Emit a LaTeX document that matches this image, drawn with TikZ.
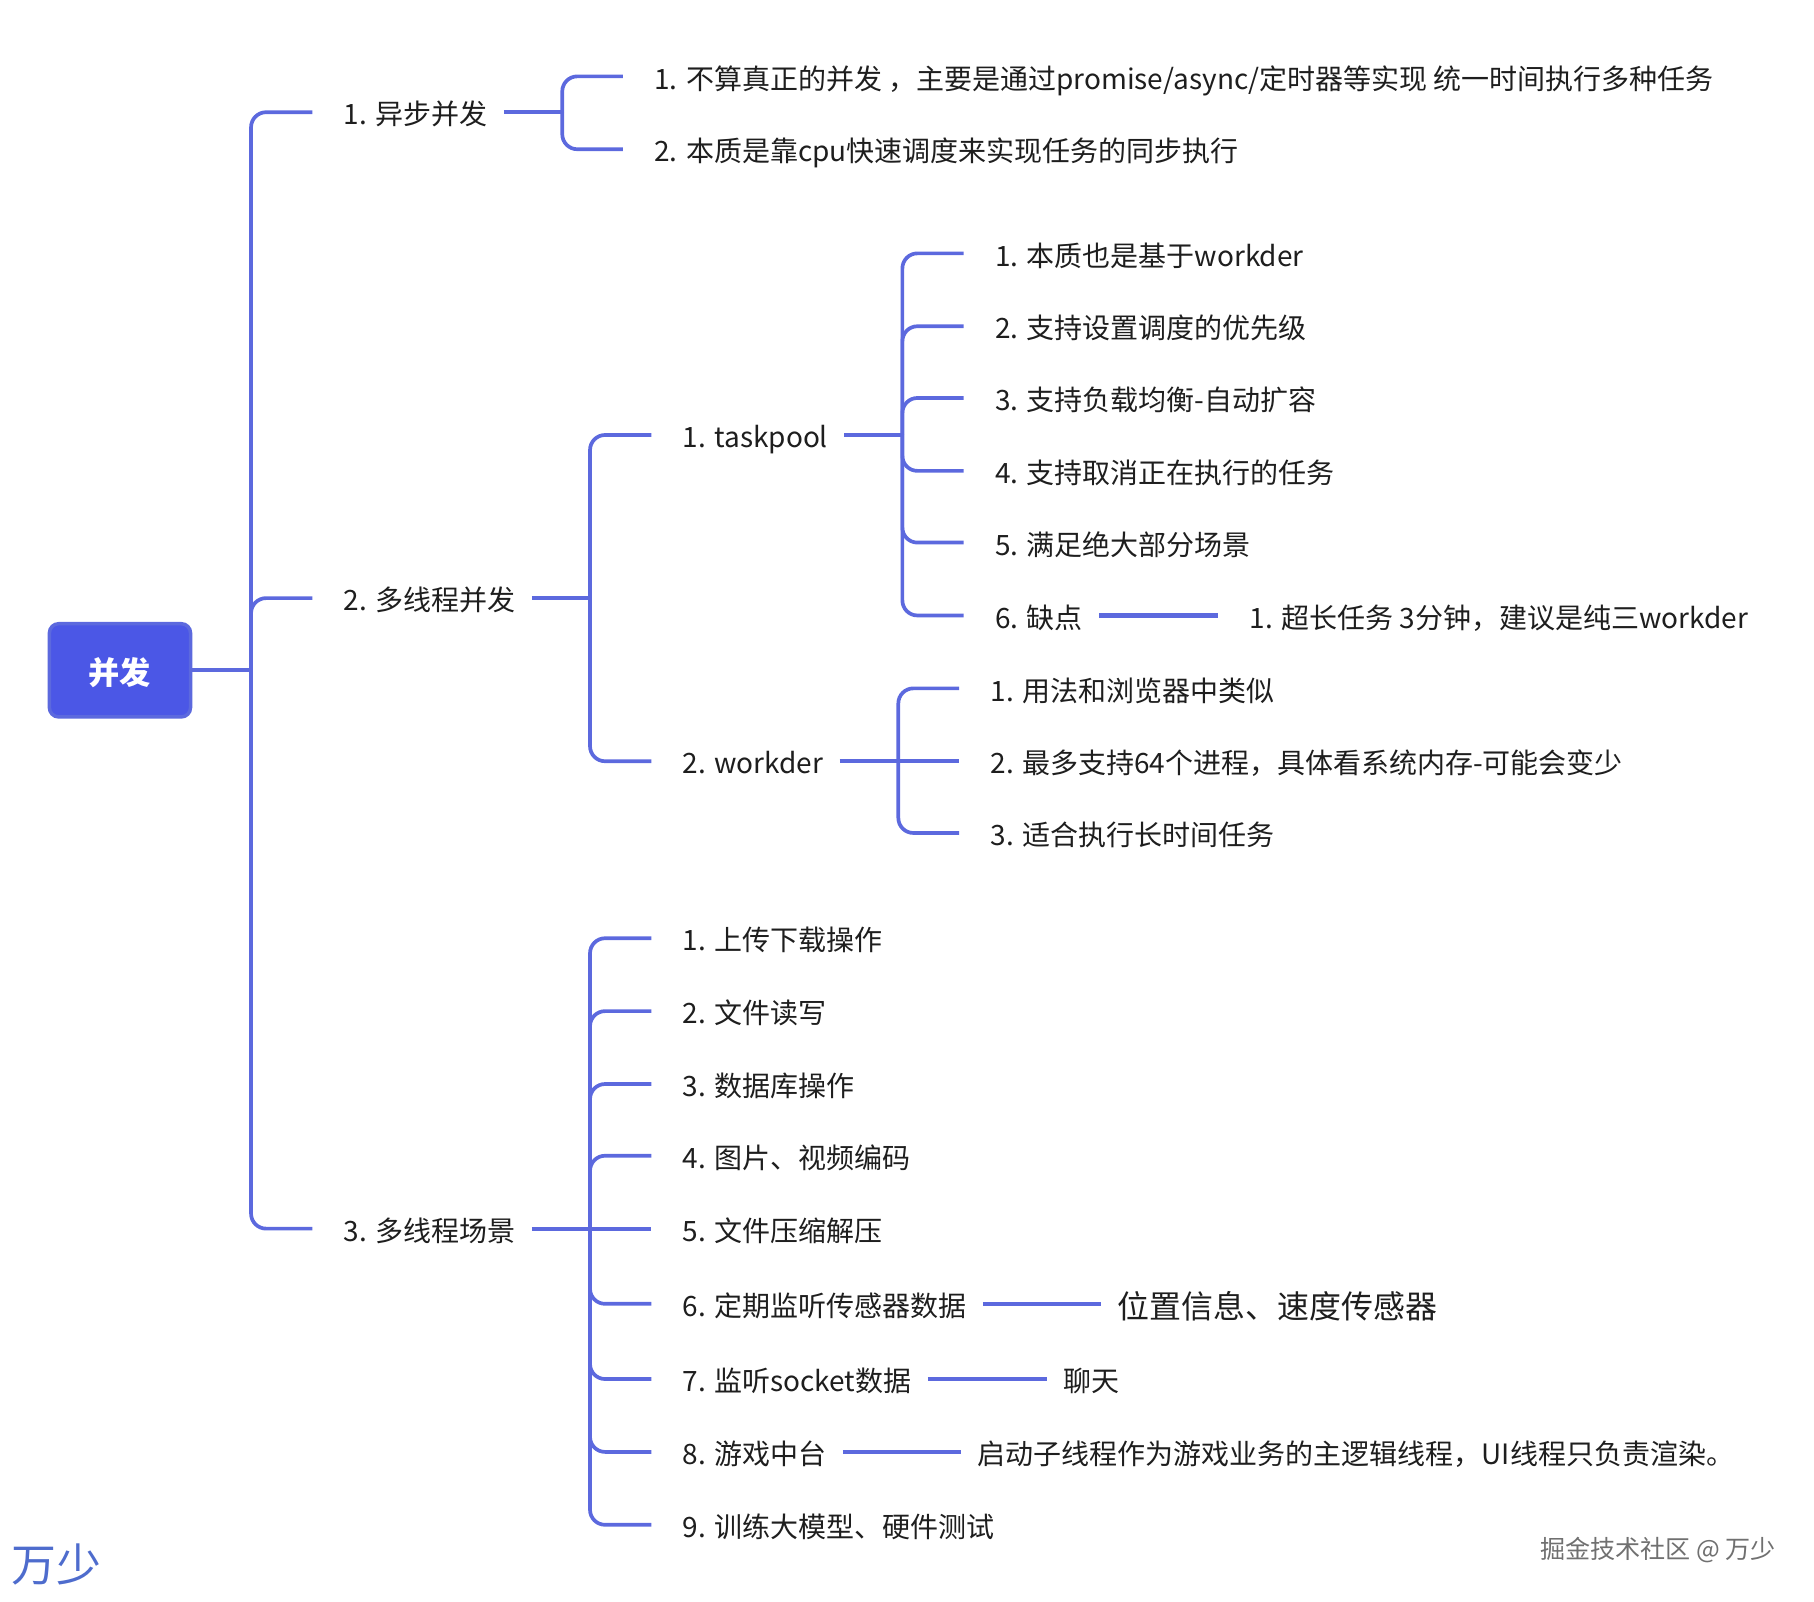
\documentclass[tikz,border=0pt]{standalone}
\usepackage{fontspec}
\setmainfont{Noto Sans CJK SC}
\usetikzlibrary{calc}
\definecolor{linkblue}{HTML}{5C69DE}
\definecolor{rootfill}{HTML}{4B57E6}
\definecolor{inkdark}{HTML}{1E1E1E}
\definecolor{sigblue}{HTML}{4E6CCD}
\definecolor{markgray}{HTML}{707070}
\tikzset{
  x=1pt,y=-1pt,
  link/.style={draw=linkblue,line width=3.2pt},
  stem/.style={draw=linkblue,line width=3.6pt},
  elbow/.style={link,rounded corners=13pt},
  textbase/.style={anchor=west,inner xsep=14pt,inner ysep=0pt,text height=24pt,text depth=2pt,text=inkdark,
    font=\fontsize{24.2}{28}\selectfont},
  topic/.style={textbase,execute at begin node={\hspace*{13pt}}},
  note/.style={textbase},
  bignote/.style={textbase,text height=27pt,font=\fontsize{27.6}{32}\selectfont},
  rootbox/.style={rectangle,rounded corners=8pt,fill=rootfill,draw=linkblue,line width=3pt,
    minimum width=122pt,minimum height=80.6pt,text height=24pt,text depth=0pt,text=white,font=\fontsize{27}{32}\selectfont\bfseries},
  brand/.style={anchor=west,inner sep=0pt,text=#1},
}
\begin{document}
\begin{tikzpicture}
\useasboundingbox (0,0) rectangle (1568,1384.7);
% root
\node[rootbox] (root) at (103.7,579.4) {并发};
% level 1
\node[topic] (a) at (270,97) {1. 异步并发};
\node[topic] (b) at (270,517) {2. 多线程并发};
\node[topic] (c) at (270,1062) {3. 多线程场景};
% a
\node[topic] (a1) at (538.5,66) {1. 不算真正的并发 ，主要是通过promise/async/定时器等实现 统一时间执行多种任务};
\node[topic] (a2) at (538.5,129) {2. 本质是靠cpu快速调度来实现任务的同步执行};
% b
\node[topic] (b1) at (563,376) {1. taskpool};
\node[topic] (b2) at (563,658) {2. workder};
\node[topic] (t1) at (833,219) {1. 本质也是基于workder};
\node[topic] (t2) at (833,282) {2. 支持设置调度的优先级};
\node[topic] (t3) at (833,344) {3. 支持负载均衡-自动扩容};
\node[topic] (t4) at (833,407) {4. 支持取消正在执行的任务};
\node[topic] (t5) at (833,469) {5. 满足绝大部分场景};
\node[topic] (t6) at (833,532) {6. 缺点};
\node[topic] (t61) at (1053,532) {1. 超长任务 3分钟，建议是纯三workder};
\node[topic] (w1) at (829,595) {1. 用法和浏览器中类似};
\node[topic] (w2) at (829,658) {2. 最多支持64个进程，具体看系统内存-可能会变少};
\node[topic] (w3) at (829,720) {3. 适合执行长时间任务};
% c
\node[topic] (c1) at (563,811) {1. 上传下载操作};
\node[topic] (c2) at (563,874) {2. 文件读写};
\node[topic] (c3) at (563,937) {3. 数据库操作};
\node[topic] (c4) at (563,999) {4. 图片、视频编码};
\node[topic] (c5) at (563,1062) {5. 文件压缩解压};
\node[topic] (c6) at (563,1127) {6. 定期监听传感器数据};
\node[topic] (c7) at (563,1192) {7. 监听socket数据};
\node[topic] (c8) at (563,1255) {8. 游戏中台};
\node[topic] (c9) at (563,1318) {9. 训练大模型、硬件测试};
\node[bignote] (c61) at (952,1127) {位置信息、速度传感器};
\node[note] (c71) at (905,1192) {聊天};
\node[note] (c81) at (831,1255) {启动子线程作为游戏业务的主逻辑线程，UI线程只负责渲染。};
% trunk junctions
\coordinate (jroot) at (217,579);
\coordinate (ja) at (486,97);
\coordinate (jb) at (510,517);
\coordinate (jc) at (510,1062);
\coordinate (jb1) at (780,376);
\coordinate (jb2) at (776.5,658);
% stems
\draw[stem] (root.east |- jroot) -- (jroot);
\draw[stem] (a.east) -- (ja);
\draw[stem] (b.east) -- (jb);
\draw[stem] (c.east) -- (jc);
\draw[stem] (b1.east) -- (jb1);
\draw[stem] (b2.east) -- (jb2);
% branches
\draw[elbow] (jroot) |- (a.west);
\draw[elbow] (jroot) |- (b.west);
\draw[elbow] (jroot) |- (c.west);
\draw[elbow] (ja) |- (a1.west);
\draw[elbow] (ja) |- (a2.west);
\draw[elbow] (jb) |- (b1.west);
\draw[elbow] (jb) |- (b2.west);
\draw[elbow] (jb1) |- (t1.west);
\draw[elbow] (jb1) |- (t2.west);
\draw[elbow] (jb1) |- (t3.west);
\draw[elbow] (jb1) |- (t4.west);
\draw[elbow] (jb1) |- (t5.west);
\draw[elbow] (jb1) |- (t6.west);
\draw[stem] (t6.east) -- (t61.west);
\draw[elbow] (jb2) |- (w1.west);
\draw[stem] (jb2) -- (w2.west);
\draw[elbow] (jb2) |- (w3.west);
\draw[elbow] (jc) |- (c1.west);
\draw[elbow] (jc) |- (c2.west);
\draw[elbow] (jc) |- (c3.west);
\draw[elbow] (jc) |- (c4.west);
\draw[stem] (jc) -- (c5.west);
\draw[elbow] (jc) |- (c6.west);
\draw[elbow] (jc) |- (c7.west);
\draw[elbow] (jc) |- (c8.west);
\draw[elbow] (jc) |- (c9.west);
\draw[stem] (c6.east) -- (c61.west);
\draw[stem] (c7.east) -- (c71.west);
\draw[stem] (c8.east) -- (c81.west);
% signatures
\node[brand=sigblue,font=\fontsize{38.8}{44}\selectfont] (sig) at (10,1352) {万少};
\node[brand=markgray,font=\fontsize{21.7}{26}\selectfont] (mark) at (1331,1339.5) {掘金技术社区 @ 万少};
\end{tikzpicture}
\end{document}
